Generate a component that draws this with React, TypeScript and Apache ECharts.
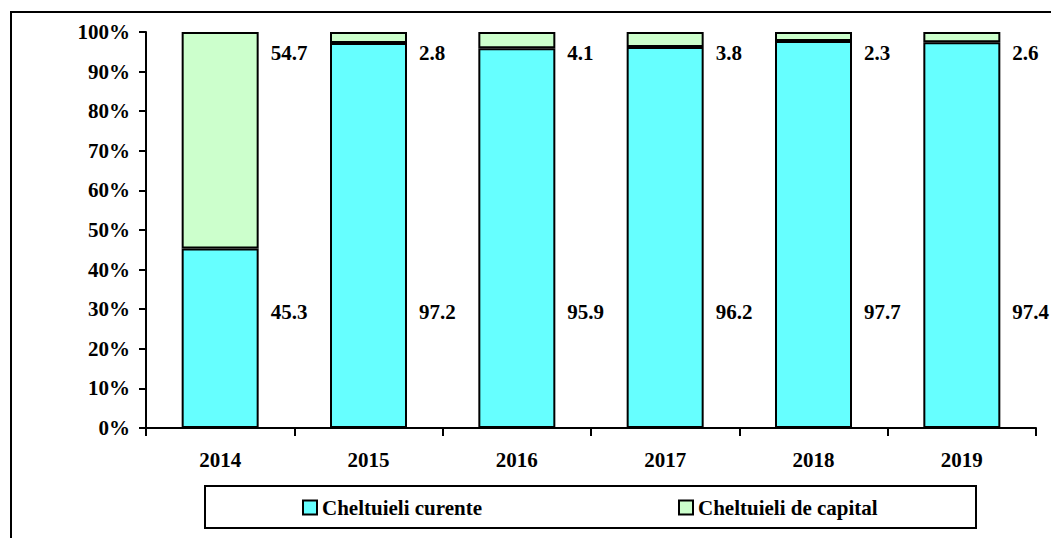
import React, { useEffect, useRef } from "react";
import * as echarts from "echarts";

const years = ["2014", "2015", "2016", "2017", "2018", "2019"];
const curente = [45.3, 97.2, 95.9, 96.2, 97.7, 97.4];
const capital = [54.7, 2.8, 4.1, 3.8, 2.3, 2.6];
const seriesNames = ["Cheltuieli curente", "Cheltuieli de capital"];

const FONT = "'Liberation Serif', 'Times New Roman', serif";

export default function App() {
  const ref = useRef<HTMLDivElement>(null);
  useEffect(() => {
    if (!ref.current) return;
    const chart = echarts.init(ref.current, null, { renderer: "svg" });
    const labelStyle = {
      show: true,
      color: "#000",
      fontFamily: FONT,
      fontWeight: "bold" as const,
      fontSize: 21,
      formatter: (p: any) => p.value.toFixed(1),
    };
    const legendText = { color: "#000", fontFamily: FONT, fontWeight: "bold", fontSize: 21 };
    chart.setOption({
      animation: false,
      backgroundColor: "#fff",
      textStyle: { fontFamily: FONT },
      grid: { left: 146, right: 15, top: 32, bottom: 110, containLabel: false },
      graphic: [
        {
          type: "rect",
          shape: { x: 11, y: 12, width: 1100, height: 600 },
          style: { fill: "none", stroke: "#000", lineWidth: 2 },
          silent: true,
        },
        {
          type: "rect",
          shape: { x: 205, y: 486, width: 771, height: 42 },
          style: { fill: "none", stroke: "#000", lineWidth: 2 },
          silent: true,
        },
      ],
      legend: [
        {
          data: [seriesNames[0]],
          icon: "rect",
          left: 302,
          top: 497,
          padding: 0,
          itemWidth: 14,
          itemHeight: 14,
          itemGap: 5,
          textStyle: legendText,
        },
        {
          data: [seriesNames[1]],
          icon: "rect",
          left: 678,
          top: 497,
          padding: 0,
          itemWidth: 14,
          itemHeight: 14,
          itemGap: 5,
          textStyle: legendText,
        },
      ],
      xAxis: {
        type: "category",
        data: years,
        axisLine: { lineStyle: { color: "#000", width: 2 } },
        axisTick: { show: true, length: 8, lineStyle: { color: "#000", width: 2 } },
        axisLabel: {
          color: "#000",
          fontFamily: FONT,
          fontWeight: "bold",
          fontSize: 21,
          margin: 21,
        },
      },
      yAxis: {
        type: "value",
        min: 0,
        max: 100,
        interval: 10,
        axisLine: { show: true, lineStyle: { color: "#000", width: 2 } },
        axisTick: { show: true, length: 7, lineStyle: { color: "#000", width: 2 } },
        splitLine: { show: false },
        axisLabel: {
          color: "#000",
          fontFamily: FONT,
          fontWeight: "bold",
          fontSize: 21,
          margin: 16,
          formatter: "{value}%",
        },
      },
      series: [
        {
          name: seriesNames[0],
          type: "bar",
          stack: "total",
          data: curente,
          barWidth: 77,
          itemStyle: { color: "#66FFFF", borderColor: "#000", borderWidth: 2 },
          label: labelStyle,
          labelLayout: (p: any) => ({
            x: p.rect.x + p.rect.width + 12,
            y: 312,
            align: "left",
            verticalAlign: "middle",
          }),
        },
        {
          name: seriesNames[1],
          type: "bar",
          stack: "total",
          data: capital,
          barWidth: 77,
          itemStyle: { color: "#CCFFCC", borderColor: "#000", borderWidth: 2 },
          label: labelStyle,
          labelLayout: (p: any) => ({
            x: p.rect.x + p.rect.width + 12,
            y: 53,
            align: "left",
            verticalAlign: "middle",
          }),
        },
      ],
    });
    return () => chart.dispose();
  }, []);
  return (
    <div
      ref={ref}
      style={{ position: "fixed", left: 0, top: 0, width: 1051, height: 538 }}
    />
  );
}
